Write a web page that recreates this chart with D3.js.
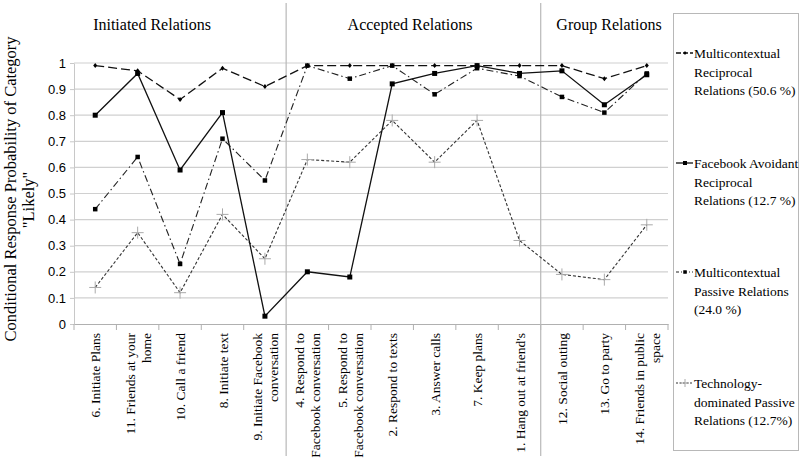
<!DOCTYPE html>
<html><head><meta charset="utf-8">
<script src="https://cdn.jsdelivr.net/npm/d3@7/dist/d3.min.js"></script>
<style>body{margin:0;background:#fff}svg{display:block}</style>
</head><body><svg id="c" width="800" height="461"></svg>
<script>
const categories = [
  ["6. Initiate Plans"],
  ["11. Friends at your","home"],
  ["10. Call a friend"],
  ["8. Initiate text"],
  ["9. Initiate Facebook","conversation"],
  ["4. Respond to","Facebook conversation"],
  ["5. Respond to","Facebook conversation"],
  ["2. Respond to texts"],
  ["3. Answer calls"],
  ["7. Keep plans"],
  ["1. Hang out at friend's"],
  ["12. Social outing"],
  ["13. Go to party"],
  ["14. Friends in public","space"]
];
const seriesNames = [
  ["Multicontextual","Reciprocal","Relations (50.6 %)"],
  ["Facebook Avoidant","Reciprocal","Relations (12.7 %)"],
  ["Multicontextual","Passive Relations","(24.0 %)"],
  ["Technology-","dominated Passive","Relations (12.7%)"]
];
const multiReciprocal = [0.99,0.97,0.86,0.98,0.91,0.99,0.99,0.99,0.99,0.99,0.99,0.99,0.94,0.99];
const fbAvoidant      = [0.80,0.96,0.59,0.81,0.03,0.20,0.18,0.92,0.96,0.99,0.96,0.97,0.84,0.955];
const multiPassive    = [0.44,0.64,0.23,0.71,0.55,0.99,0.94,0.99,0.88,0.98,0.95,0.87,0.81,0.96];
const techPassive     = [0.14,0.35,0.12,0.42,0.25,0.63,0.62,0.78,0.62,0.78,0.32,0.19,0.17,0.38];
const yTicks = [0,0.1,0.2,0.3,0.4,0.5,0.6,0.7,0.8,0.9,1];
const yTickLabels = ["0","0.1","0.2","0.3","0.4","0.5","0.6","0.7","0.8","0.9","1"];
const sections = ["Initiated Relations","Accepted Relations","Group Relations"];
const sectionCenters = [152,410,609];

const svg = d3.select("#c");
const L=74, R=668, T=63, B=324;
const x = d3.scaleBand().domain(d3.range(categories.length)).range([L,R]);
const y = d3.scaleLinear().domain([0,1]).range([B,T]);
const serif = "'Liberation Serif','Times New Roman',serif";
const sans = "'Liberation Sans',Arial,sans-serif";

// gridlines
svg.append("g").selectAll("line").data(yTicks.slice(1)).join("line")
  .attr("x1",L).attr("x2",R).attr("y1",d=>y(d)).attr("y2",d=>y(d))
  .attr("stroke","#d0d0d0").attr("stroke-width",1.2);

// y axis
const ya = svg.append("g").attr("transform",`translate(${L},0)`)
  .call(d3.axisLeft(y).tickValues(yTicks).tickFormat((d,i)=>yTickLabels[i]).tickSizeOuter(0).tickSizeInner(4).tickPadding(4));
ya.select(".domain").attr("stroke","#c8c8c8");
ya.selectAll(".tick line").attr("stroke","#c8c8c8");
ya.selectAll("text").attr("font-family",sans).attr("font-size",13).attr("fill","#000");

// x axis
const xa = svg.append("g").attr("transform",`translate(0,${B})`)
  .call(d3.axisBottom(x).tickSize(0).tickFormat(""));
xa.select(".domain").attr("stroke","#b0b0b0").attr("stroke-width",1.2);
svg.append("g").selectAll("line").data(d3.range(categories.length+1)).join("line")
  .attr("x1",i=>L+i*x.step()).attr("x2",i=>L+i*x.step()).attr("y1",B).attr("y2",B+6)
  .attr("stroke","#b0b0b0");

// x labels rotated
categories.forEach((lines,i)=>{
  const cx = x(i)+x.bandwidth()/2;
  const n = lines.length;
  lines.forEach((t,j)=>{
    const off = (j-(n-1)/2)*16;
    svg.append("text").attr("transform",`translate(${cx+off+5},333) rotate(-90)`)
      .attr("text-anchor","end").attr("font-family",serif).attr("font-size",13.5).text(t);
  });
});

// section separators
[5,11].forEach(i=>{
  svg.append("line").attr("x1",L+i*x.step()).attr("x2",L+i*x.step()).attr("y1",3).attr("y2",456)
    .attr("stroke","#b8b8b8").attr("stroke-width",1.2);
});
sections.forEach((s,i)=>{
  svg.append("text").attr("x",sectionCenters[i]).attr("y",30)
    .attr("text-anchor","middle").attr("font-family",serif).attr("font-size",16).text(s);
});

// y title
svg.append("text").attr("transform","translate(16,189) rotate(-90)").attr("text-anchor","middle")
  .attr("font-family",serif).attr("font-size",16.5).text("Conditional Response Probability of Category");
svg.append("text").attr("transform","translate(34,200) rotate(-90)").attr("text-anchor","middle")
  .attr("font-family",serif).attr("font-size",16.5).text("\"Likely\"");

const styles = [
  {data:multiReciprocal, dash:"9,4", color:"#111", w:1.3, marker:"diamond", ms:4},
  {data:fbAvoidant, dash:null, color:"#111", w:1.3, marker:"square", ms:5},
  {data:multiPassive, dash:"7,3,1.5,3", color:"#222", w:1.1, marker:"square", ms:4.5},
  {data:techPassive, dash:"3,2", color:"#333", w:1.1, marker:"plus", ms:6}
];
const line = d3.line().x((d,i)=>x(i)+x.bandwidth()/2).y(d=>y(d));
function drawMarker(g,type,cx,cy,s){
  if(type==="square") g.append("rect").attr("x",cx-s/2).attr("y",cy-s/2).attr("width",s).attr("height",s).attr("fill","#000");
  else if(type==="diamond") g.append("path").attr("d",`M${cx},${cy-s/2-0.5}L${cx+s/2},${cy}L${cx},${cy+s/2+0.5}L${cx-s/2},${cy}Z`).attr("fill","#000");
  else if(type==="plus"){
    g.append("path").attr("d",`M${cx-s},${cy}H${cx+s}M${cx},${cy-s}V${cy+s}`).attr("stroke","#aaa").attr("stroke-width",1);
  }
}
[3,2,1,0].forEach(k=>{
  const st=styles[k];
  const g=svg.append("g");
  g.append("path").attr("d",line(st.data)).attr("fill","none").attr("stroke",st.color)
    .attr("stroke-width",st.w).attr("stroke-dasharray",st.dash);
  st.data.forEach((d,i)=>drawMarker(g,st.marker,x(i)+x.bandwidth()/2,y(d),st.ms));
});

// legend
svg.append("rect").attr("x",673.5).attr("y",13.5).attr("width",125).attr("height",437)
  .attr("fill","none").attr("stroke","#b8b8b8").attr("stroke-width",1);
const legY=[58,168,277,388];
seriesNames.forEach((lines,k)=>{
  const st=styles[k];
  const g=svg.append("g");
  const ly=legY[k]-5;
  g.append("line").attr("x1",676).attr("x2",693).attr("y1",ly).attr("y2",ly)
    .attr("stroke",st.color).attr("stroke-width",st.w).attr("stroke-dasharray",k===0?"5,2":k===2?"3,2,1,2":k===3?"2,1.5":null);
  drawMarker(g,st.marker,685,ly,k===3?4:st.ms-1);
  lines.forEach((t,j)=>{
    g.append("text").attr("x",694).attr("y",legY[k]+j*18.5).attr("font-family",serif)
      .attr("font-size",13.5).text(t);
  });
});
</script></body></html>
